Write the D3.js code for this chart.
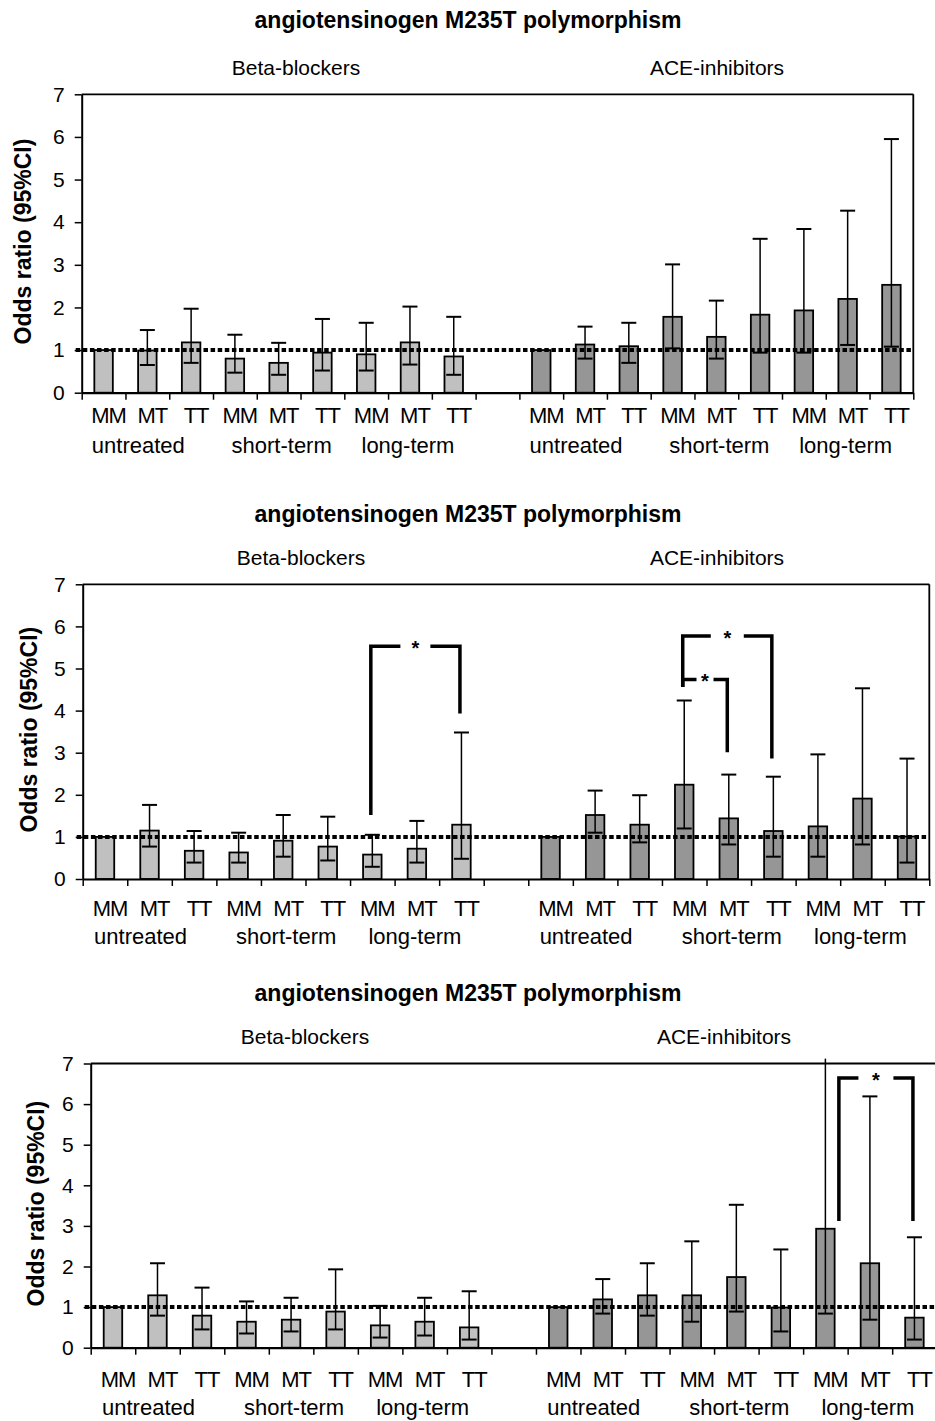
<!DOCTYPE html>
<html><head><meta charset="utf-8">
<script src="https://cdn.jsdelivr.net/npm/d3@7"></script>
<style>
body{margin:0;background:#fff}
svg{display:block}
text{font-family:"Liberation Sans",Arial,sans-serif;fill:#000}
</style>
</head><body>
<svg id="chart" width="935" height="1421"></svg>
<script>
// ---------- data ----------
const panelTitle = "angiotensinogen M235T polymorphism";
const drugs = ["Beta-blockers", "ACE-inhibitors"];
const periods = ["untreated", "short-term", "long-term"];
const genotypes = ["MM", "MT", "TT"];
const yTicks = [0, 1, 2, 3, 4, 5, 6, 7];
const yLabel = "Odds ratio (95%CI)";
const referenceOR = 1;

// Panel A
const a_beta_or = [1.00, 0.99, 1.18, 0.80, 0.70, 0.94, 0.90, 1.18, 0.85];
const a_beta_lo = [null, 0.65, 0.70, 0.47, 0.42, 0.52, 0.52, 0.66, 0.42];
const a_beta_hi = [null, 1.47, 1.97, 1.36, 1.17, 1.73, 1.64, 2.02, 1.78];
const a_ace_or  = [1.00, 1.13, 1.09, 1.78, 1.31, 1.83, 1.93, 2.20, 2.53];
const a_ace_lo  = [null, 0.80, 0.70, 1.04, 0.80, 0.94, 0.94, 1.12, 1.08];
const a_ace_hi  = [null, 1.55, 1.64, 3.01, 2.16, 3.61, 3.84, 4.27, 5.95];

// Panel B
const b_beta_or = [1.00, 1.15, 0.67, 0.63, 0.91, 0.77, 0.58, 0.72, 1.29];
const b_beta_lo = [null, 0.77, 0.39, 0.39, 0.53, 0.44, 0.29, 0.39, 0.48];
const b_beta_hi = [null, 1.76, 1.14, 1.10, 1.52, 1.48, 1.05, 1.38, 3.48];
const b_ace_or  = [1.00, 1.52, 1.29, 2.24, 1.44, 1.14, 1.25, 1.91, 1.01];
const b_ace_lo  = [null, 1.10, 0.87, 1.20, 0.82, 0.53, 0.53, 0.82, 0.39];
const b_ace_hi  = [null, 2.10, 1.99, 4.24, 2.48, 2.43, 2.96, 4.53, 2.86];

// Panel C
const c_beta_or = [1.00, 1.29, 0.79, 0.64, 0.69, 0.89, 0.55, 0.64, 0.50];
const c_beta_lo = [null, 0.79, 0.45, 0.35, 0.40, 0.45, 0.25, 0.30, 0.20];
const c_beta_hi = [null, 2.08, 1.48, 1.14, 1.23, 1.93, 1.03, 1.23, 1.39];
const c_ace_or  = [1.00, 1.19, 1.29, 1.29, 1.74, 0.99, 2.93, 2.08, 0.74];
const c_ace_lo  = [null, 0.84, 0.79, 0.64, 0.89, 0.40, 0.84, 0.69, 0.20];
const c_ace_hi  = [null, 1.69, 2.08, 2.62, 3.52, 2.42, 7.12, 6.19, 2.72];

// significance brackets (values on the odds-ratio axis)
const bracketsB = [
  {from: "Beta-blockers|long-term|MM", to: "Beta-blockers|long-term|TT", top: 5.53, leftEnd: 1.52, rightEnd: 3.93},
  {from: "ACE-inhibitors|short-term|MM", to: "ACE-inhibitors|short-term|TT", top: 5.77, leftEnd: 4.56, rightEnd: 2.86},
  {from: "ACE-inhibitors|short-term|MM", to: "ACE-inhibitors|short-term|MT", top: 4.74, leftEnd: 4.56, rightEnd: 3.01}
];
const bracketsC = [
  {from: "ACE-inhibitors|long-term|MM", to: "ACE-inhibitors|long-term|TT", top: 6.64, leftEnd: 3.12, rightEnd: 3.12}
];

// ---------- layout (pixels / styles) ----------
const layout = [
  {top: 94.3, bottom: 392.7, left: 81.7, right: 913.3, titleY: 28, subY: 75, subX: [296, 717],
   ylabX: 22.5, catDy: 30, grpDy: 60, frameRight: true,
   data: [[a_beta_or, a_beta_lo, a_beta_hi], [a_ace_or, a_ace_lo, a_ace_hi]], brackets: [], bracketGap: [], bracketDx: []},
  {top: 584.3, bottom: 879, left: 82.7, right: 929.3, titleY: 522, subY: 565, subX: [301, 717],
   ylabX: 29, catDy: 37, grpDy: 65, frameRight: true,
   data: [[b_beta_or, b_beta_lo, b_beta_hi], [b_ace_or, b_ace_lo, b_ace_hi]], brackets: bracketsB, bracketGap: [30, 33, 17], bracketDx: [0, 0, 0]},
  {top: 1063.5, bottom: 1347.7, left: 90.7, right: 936.7, titleY: 1001, subY: 1044, subX: [305, 724],
   ylabX: 36, catDy: 39, grpDy: 67, frameRight: false,
   data: [[c_beta_or, c_beta_lo, c_beta_hi], [c_ace_or, c_ace_lo, c_ace_hi]], brackets: bracketsC, bracketGap: [35], bracketDx: [15]}
];
const fills = ["#c0c0c0", "#969696"];
const grpOffsets = [-9, 3, -2];

// ---------- build ----------
const keys = [];
drugs.forEach((d, di) => {
  periods.forEach(p => genotypes.forEach(g => keys.push(d + "|" + p + "|" + g)));
  if (di === 0) keys.push("gap");
});

const svg = d3.select("#chart");

layout.forEach((L, pi) => {
  const g = svg.append("g");
  const x = d3.scaleBand().domain(keys).range([L.left, L.right]).padding(0);
  const xi = d3.scaleLinear().domain([0, keys.length]).range([L.left, L.right]);
  const y = d3.scaleLinear().domain([0, 7]).range([L.bottom, L.top]);
  const bw = x.bandwidth();
  const barW = 18.5;
  const cx = k => x(k) + bw / 2;

  // titles
  g.append("text").attr("x", 468).attr("y", L.titleY).attr("text-anchor", "middle")
    .style("font-size", "23px").style("font-weight", "bold").text(panelTitle);
  drugs.forEach((d, di) => {
    g.append("text").attr("x", L.subX[di]).attr("y", L.subY).attr("text-anchor", "middle")
      .style("font-size", "21px").text(d);
  });

  // frame (top + right)
  g.append("line").attr("x1", L.left).attr("x2", L.frameRight ? L.right : 935)
    .attr("y1", L.top).attr("y2", L.top).attr("stroke", "#000").attr("stroke-width", 1.8);
  if (L.frameRight) {
    g.append("line").attr("x1", L.right).attr("x2", L.right)
      .attr("y1", L.top).attr("y2", L.bottom).attr("stroke", "#000").attr("stroke-width", 1.8);
  }

  // bars + error bars
  drugs.forEach((d, di) => {
    const [orv, lo, hi] = L.data[di];
    const rows = [];
    periods.forEach((p, pj) => genotypes.forEach((gt, gk) => {
      const i = pj * 3 + gk;
      rows.push({key: d + "|" + p + "|" + gt, or: orv[i], lo: lo[i], hi: hi[i]});
    }));
    g.selectAll(null).data(rows).enter().append("rect")
      .attr("x", r => cx(r.key) - barW / 2)
      .attr("y", r => y(r.or))
      .attr("width", barW)
      .attr("height", r => y(0) - y(r.or))
      .attr("fill", fills[di]).attr("stroke", "#000").attr("stroke-width", 1.8);
    const eb = rows.filter(r => r.lo !== null);
    g.selectAll(null).data(eb).enter().append("line")
      .attr("x1", r => cx(r.key)).attr("x2", r => cx(r.key))
      .attr("y1", r => y(r.lo)).attr("y2", r => y(r.hi))
      .attr("stroke", "#000").attr("stroke-width", 1.5);
    g.selectAll(null).data(eb).enter().append("line")
      .attr("x1", r => cx(r.key) - 7.5).attr("x2", r => cx(r.key) + 7.5)
      .attr("y1", r => y(r.lo)).attr("y2", r => y(r.lo))
      .attr("stroke", "#000").attr("stroke-width", 2);
    g.selectAll(null).data(eb.filter(r => r.hi <= 7)).enter().append("line")
      .attr("x1", r => cx(r.key) - 7.5).attr("x2", r => cx(r.key) + 7.5)
      .attr("y1", r => y(r.hi)).attr("y2", r => y(r.hi))
      .attr("stroke", "#000").attr("stroke-width", 2);
  });

  // reference line at OR = 1
  g.append("line").attr("x1", L.left - 6).attr("x2", L.right - 1)
    .attr("y1", y(referenceOR)).attr("y2", y(referenceOR))
    .attr("stroke", "#000").attr("stroke-width", 4).attr("stroke-dasharray", "4.5,2.6");

  // axes
  const ya = g.append("g").attr("transform", `translate(${L.left},0)`)
    .call(d3.axisLeft(y).tickValues(yTicks).tickFormat(d3.format("d")).tickSize(7).tickPadding(10).tickSizeOuter(0));
  ya.select(".domain").attr("stroke-width", 2);
  ya.selectAll(".tick line").attr("stroke-width", 1.5);
  ya.selectAll("text").style("font-size", "21px").style("font-family", "Liberation Sans, Arial, sans-serif");

  const xa = g.append("g").attr("transform", `translate(0,${L.bottom})`)
    .call(d3.axisBottom(xi).tickValues(d3.range(keys.length + 1)).tickFormat("").tickSize(7).tickSizeOuter(0));
  xa.select(".domain").attr("stroke-width", 2.2);
  xa.selectAll(".tick line").attr("stroke-width", 1.5);

  // category labels
  const catRows = keys.filter(k => k !== "gap");
  g.selectAll(null).data(catRows).enter().append("text")
    .attr("x", k => cx(k) + 5).attr("y", L.bottom + L.catDy).attr("text-anchor", "middle")
    .style("font-size", "22px").style("letter-spacing", "-1px").text(k => k.split("|")[2]);
  drugs.forEach(d => periods.forEach((p, pj) => {
    g.append("text").attr("x", cx(d + "|" + p + "|MT") + grpOffsets[pj]).attr("y", L.bottom + L.grpDy)
      .attr("text-anchor", "middle").style("font-size", "22px").text(p);
  }));

  // y label
  const midY = (L.top + L.bottom) / 2 - 2;
  g.append("text").attr("transform", `translate(${L.ylabX},${midY}) rotate(-90)`)
    .attr("text-anchor", "middle").attr("dy", "0.35em")
    .style("font-size", "23px").style("font-weight", "bold").text(yLabel);

  // brackets
  L.brackets.forEach((b, bi) => {
    const x1 = cx(b.from) - 1.5 + L.bracketDx[bi];
    const x2 = cx(b.to) - 1.5;
    const yt = y(b.top);
    const mid = (x1 + x2) / 2;
    const gap = L.bracketGap[bi] / 2;
    const path = d3.path();
    path.moveTo(x1, y(b.leftEnd)); path.lineTo(x1, yt); path.lineTo(mid - gap, yt);
    path.moveTo(mid + gap, yt); path.lineTo(x2, yt); path.lineTo(x2, y(b.rightEnd));
    g.append("path").attr("d", path.toString()).attr("fill", "none")
      .attr("stroke", "#000").attr("stroke-width", 3.5).attr("stroke-linejoin", "miter");
    g.append("text").attr("x", mid).attr("y", yt + 9).attr("text-anchor", "middle")
      .style("font-size", "20px").style("font-weight", "bold").text("*");
  });
});
</script>
</body></html>
